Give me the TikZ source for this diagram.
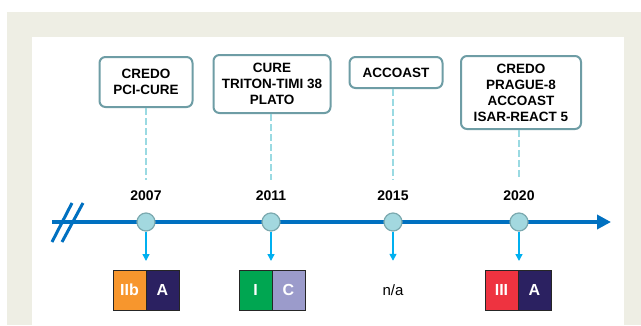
\documentclass[tikz,border=0pt]{standalone}
\usepackage{fontspec}
\setmainfont{Liberation Sans}
\usetikzlibrary{arrows.meta,positioning}

\definecolor{frame}{HTML}{EEEEE4}
\definecolor{axisblue}{HTML}{0070C0}
\definecolor{dotfill}{HTML}{A3D8DF}
\definecolor{dotline}{HTML}{7BA9AF}
\definecolor{boxline}{HTML}{6E9DA5}
\definecolor{dashline}{HTML}{9ADAE2}
\definecolor{downblue}{HTML}{00B0F0}
\definecolor{lvorange}{HTML}{F7962D}
\definecolor{lvnavy}{HTML}{2B2161}
\definecolor{lvgreen}{HTML}{00A651}
\definecolor{lvlilac}{HTML}{9B9BCB}
\definecolor{lvred}{HTML}{EE3340}

\begin{document}
\begin{tikzpicture}[x=1pt,y=-1pt,
        trial/.style={draw=boxline,line width=2pt,rounded corners=6pt,fill=white,
            align=center,inner sep=0pt,anchor=north,
            font=\bfseries\fontsize{13.5}{16}\selectfont},
        dot/.style={circle,draw=dotline,line width=1.2pt,fill=dotfill,
            minimum size=18pt,inner sep=0pt},
        year/.style={font=\bfseries\fontsize{14}{16}\selectfont},
        link/.style={dashline,line width=2.6pt,dash pattern=on 7pt off 3pt},
        down/.style={downblue,line width=1.5pt,shorten >=9pt,
            -{Triangle[length=7pt,width=7pt]}},
        cell/.style={draw=black!85,line width=1pt,outer sep=0pt,inner sep=0pt,
            minimum width=33pt,minimum height=40pt,text=white,
            font=\bfseries\fontsize{16}{18}\selectfont}]
        % background
        \path[use as bounding box] (0,0) rectangle (641,325);
        \fill[frame] (7,12) rectangle (641,325);
        \fill[white] (32,37) rectangle (624,325);

        \coordinate (T0) at (52,222);
        \coordinate (T1) at (611,222);
        \coordinate (K1a) at (52,242);
        \coordinate (K1b) at (72,203);
        \coordinate (K2a) at (62,242);
        \coordinate (K2b) at (83,203);

        \coordinate (d07) at (146,180);
        \coordinate (d11) at (271,180);
        \coordinate (d15) at (393,180);
        \coordinate (d20) at (519,180);

        % timeline
        \draw[axisblue,line width=4pt,-{Triangle[length=14pt,width=14pt]}] (T0) -- (T1);
        \draw[axisblue,line width=3pt] (K1a) -- (K1b);
        \draw[axisblue,line width=3pt] (K2a) -- (K2b);

        \node[dot] (c07) at (146,222) {};
        \node[dot] (c11) at (271,222) {};
        \node[dot] (c15) at (393,222) {};
        \node[dot] (c20) at (519,222) {};

        \node[year] (y07) at (146,196) {2007};
        \node[year] (y11) at (271,196) {2011};
        \node[year] (y15) at (393,196) {2015};
        \node[year] (y20) at (519,196) {2020};

        % trials
        \node[trial,minimum width=93pt,minimum height=50pt] (b07) at (146,56)
            {CREDO\\PCI-CURE};
        \node[trial,minimum width=117pt,minimum height=58pt] (b11) at (272,54)
            {CURE\\TRITON-TIMI 38\\PLATO};
        \node[trial,minimum width=93pt,minimum height=31pt] (b15) at (396,56)
            {ACCOAST};
        \node[trial,minimum width=120pt,minimum height=73pt] (b20) at (521,55)
            {CREDO\\PRAGUE-8\\ACCOAST\\ISAR-REACT 5};

        \draw[link] (d07 |- b07.south) -- (d07);
        \draw[link] (d11 |- b11.south) -- (d11);
        \draw[link] (d15 |- b15.south) -- (d15);
        \draw[link] (d20 |- b20.south) -- (d20);

        % recommendation classes
        \node[cell,fill=lvorange,anchor=east] (k07a) at (146,290) {IIb};
        \node[cell,fill=lvnavy,right=0pt of k07a] (k07b) {A};
        \node[cell,fill=lvgreen,anchor=east] (k11a) at (272,290) {I};
        \node[cell,fill=lvlilac,right=0pt of k11a] (k11b) {C};
        \node[minimum height=40pt,font=\fontsize{15}{18}\selectfont] (k15) at (393,290) {n/a};
        \node[cell,fill=lvred,anchor=east] (k20a) at (518,290) {III};
        \node[cell,fill=lvnavy,right=0pt of k20a] (k20b) {A};

        \draw[down] (c07) -- (k07a.north east);
        \draw[down] (c11) -- (c11 |- k11a.north);
        \draw[down] (c15) -- (k15.north);
        \draw[down] (c20) -- (c20 |- k20a.north);
    \end{tikzpicture}
\end{document}
